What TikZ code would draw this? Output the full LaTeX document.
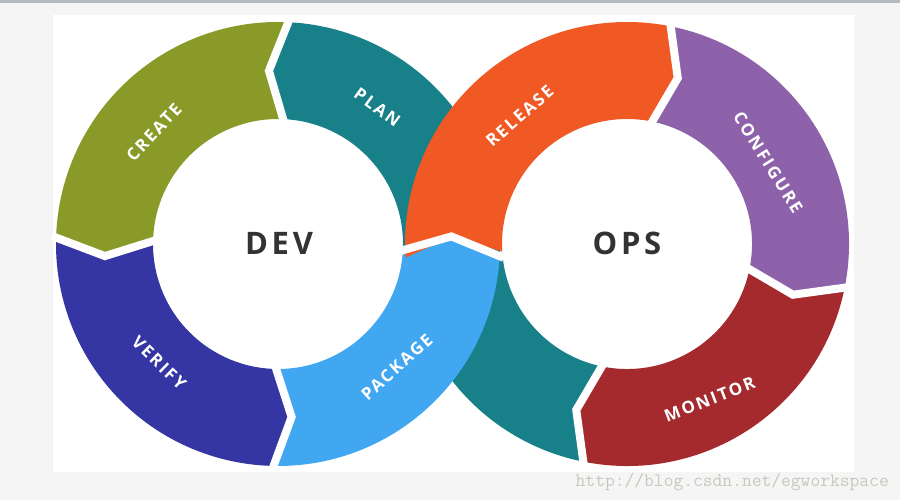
\documentclass[tikz,border=0pt]{standalone}
\usepackage{fontspec}
\newfontfamily\lblfont[LetterSpace=12]{Open Sans}
\newfontfamily\ttlfont[LetterSpace=12]{Open Sans}
\definecolor{cgreen}{RGB}{138,154,41}
\definecolor{cteal}{RGB}{24,128,137}
\definecolor{cdblue}{RGB}{54,53,164}
\definecolor{clblue}{RGB}{66,167,241}
\definecolor{corange}{RGB}{240,89,36}
\definecolor{cpurple}{RGB}{142,98,170}
\definecolor{cred}{RGB}{165,42,45}
\definecolor{ctext}{RGB}{51,51,51}
\definecolor{cbg}{RGB}{245,245,245}
\definecolor{ctop}{RGB}{180,185,190}
\definecolor{cwm}{RGB}{200,200,190}
\newcommand\ringseg[6]{%
  \begin{scope}[shift={#1}]
    \fill[#6] (#2:222) arc[start angle=#2, end angle=#3, radius=222]
      -- ({#3+(#5)}:173.5) -- (#3:125)
      arc[start angle=#3, end angle=#2, radius=125]
      -- ({#2+(#4)}:173.5) -- cycle;
  \end{scope}}
\newcommand\gapline[3]{%
  \begin{scope}[shift={#1}]
    \draw[gapstroke] (#2:226) -- ({#2+(#3)}:173.5) -- (#2:121);
  \end{scope}}
\tikzset{
  gapstroke/.style={white, line width=8pt, line join=miter},
  lbl/.style={text=white, font=\lblfont\bfseries\fontsize{17}{17}\selectfont, inner sep=0pt},
  ttl/.style={text=ctext, font=\ttlfont\bfseries\fontsize{31}{31}\selectfont, inner sep=0pt},
}
\begin{document}
\begin{tikzpicture}[x=1pt,y=1pt]
\useasboundingbox (0,0) rectangle (900,500);
\fill[cbg] (0,0) rectangle (900,500);
\fill[white] (53,28) rectangle (854,485);
\fill[ctop] (0,497) rectangle (900,500);
% segments (DEV center (278,256), OPS center (627,256))
\ringseg{(278,256)}{-4}{87}{0}{6}{cteal}
\ringseg{(627,256)}{259}{184}{-6}{0}{cteal}
\ringseg{(278,256)}{87}{178}{6}{6}{cgreen}
\ringseg{(278,256)}{178}{268.5}{6}{6}{cdblue}
\ringseg{(627,256)}{79}{-11}{-6}{-6}{cpurple}
\ringseg{(627,256)}{-11}{-101}{-6}{-6}{cred}
\ringseg{(278,256)}{268.5}{356.5}{6}{6}{clblue}
\ringseg{(627,256)}{183.5}{79}{-6}{-6}{corange}
% gaps
\gapline{(278,256)}{87}{6}
\gapline{(278,256)}{178}{6}
\gapline{(278,256)}{268.5}{6}
\gapline{(278,256)}{356.5}{6}
\gapline{(627,256)}{79}{-6}
\gapline{(627,256)}{-11}{-6}
\gapline{(627,256)}{-101}{-6}
% labels
\begin{scope}[shift={(278,256)}]
  \node[lbl, rotate=47] (create) at (138:167) {CREATE};
  \node[lbl, rotate=-36] (plan) at (54:169) {PLAN};
  \node[lbl, rotate=-44] (verify) at (225:168) {VERIFY};
  \node[lbl, rotate=42] (package) at (-46:171) {PACKAGE};
\end{scope}
\begin{scope}[shift={(627,256)}]
  \node[lbl, rotate=41] (release) at (130:167) {RELEASE};
  \node[lbl, rotate=-58] (configure) at (30:163) {CONFIGURE};
  \node[lbl, rotate=21] (monitor) at (-62:176) {MONITOR};
\end{scope}
\node[ttl] (dev) at (279,257) {DEV};
\node[ttl] (ops) at (627,257) {OPS};
\node[text=cwm, font=\ttfamily\fontsize{19}{19}\selectfont, anchor=base east, inner sep=0pt] (wm) at (889,13) {http://blog.csdn.net/egworkspace};
\end{tikzpicture}
\end{document}
